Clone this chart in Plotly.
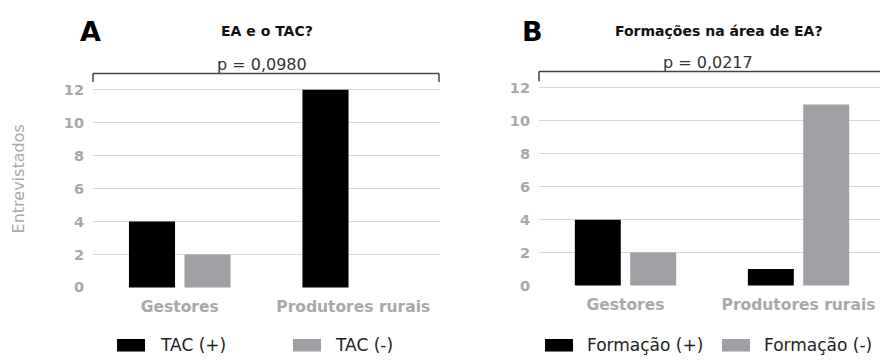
import plotly.graph_objects as go

# ---- data ----
categories = ["Gestores", "Produtores rurais"]
tac_names = ["TAC (+)", "TAC (-)"]
tac_pos = [4, 12]
tac_neg = [2, 0]
form_names = ["Formação (+)", "Formação (-)"]
form_pos = [4, 1]
form_neg = [2, 11]
y_ticks = [0, 2, 4, 6, 8, 10, 12]
panel_titles = ["EA e o TAC?", "Formações na área de EA?"]
panel_letters = ["A", "B"]
p_values = ["p = 0,0980", "p = 0,0217"]
y_title = "Entrevistados"

# ---- style ----
W, H = 880, 360
BLACK = "#000000"
GRAY = "#a0a0a4"
GRID = "#d9d9d9"
TICK = "#a8a8a8"
FONT = "DejaVu Sans"


def px(x):
    return x / W


def py(y):
    return 1 - y / H


fig = go.Figure()

fig.add_trace(go.Bar(x=categories, y=tac_pos, name=tac_names[0], marker_color=BLACK,
                     marker_line_width=0, xaxis="x", yaxis="y", showlegend=False))
fig.add_trace(go.Bar(x=categories, y=tac_neg, name=tac_names[1], marker_color=GRAY,
                     marker_line_width=0, xaxis="x", yaxis="y", showlegend=False))
fig.add_trace(go.Bar(x=categories, y=form_pos, name=form_names[0], marker_color=BLACK,
                     marker_line_width=0, xaxis="x2", yaxis="y2", showlegend=False))
fig.add_trace(go.Bar(x=categories, y=form_neg, name=form_names[1], marker_color=GRAY,
                     marker_line_width=0, xaxis="x2", yaxis="y2", showlegend=False))

xax = dict(showgrid=False, zeroline=False, showline=False, ticks="",
           tickfont=dict(family=FONT, size=15.5, color=TICK, weight="bold"),
           ticklabelstandoff=8, fixedrange=True)
yax = dict(showgrid=True, gridcolor=GRID, gridwidth=1, zeroline=True,
           zerolinecolor="white", showline=False, ticks="",
           tickvals=y_ticks, range=[-0.03, 12.2],
           tickfont=dict(family=FONT, size=14.5, color=TICK, weight="bold"),
           ticklabelstandoff=8, fixedrange=True)

fig.update_layout(
    width=W, height=H, margin=dict(l=0, r=0, t=0, b=0),
    paper_bgcolor="white", plot_bgcolor="white",
    barmode="group", bargap=0.36, bargroupgap=0.17,
    xaxis=dict(xax, domain=[px(93), px(440)], anchor="y", range=[-0.5, 1.5]),
    yaxis=dict(yax, domain=[py(293.5), py(84.6)], anchor="x"),
    xaxis2=dict(xax, domain=[px(539), 1.0], anchor="y2", range=[-0.5, 1.471]),
    yaxis2=dict(yax, domain=[py(291.5), py(82.6)], anchor="x2"),
    font=dict(family=FONT),
)

shapes = []
annotations = []

# significance brackets
for (xl, xr, yb, yt) in [(93, 439, 71, 80), (539, 880, 69, 79)]:
    shapes.append(dict(type="line", xref="paper", yref="paper", x0=px(xl), x1=px(xr),
                       y0=py(yb), y1=py(yb), line=dict(color="#444444", width=1.5)))
    shapes.append(dict(type="line", xref="paper", yref="paper", x0=px(xl), x1=px(xl),
                       y0=py(yb), y1=py(yt), line=dict(color="#444444", width=1.5)))
    if xr < 870:
        shapes.append(dict(type="line", xref="paper", yref="paper", x0=px(xr), x1=px(xr),
                           y0=py(yb), y1=py(yt), line=dict(color="#444444", width=1.5)))

for txt, x, y in zip(p_values, [262, 708], [62, 60]):
    annotations.append(dict(text=txt, x=px(x), y=py(y), xref="paper", yref="paper",
                            showarrow=False, xanchor="center", yanchor="middle",
                            font=dict(family=FONT, size=16, color="#333333")))

for txt, x, y in zip(panel_titles, [267, 719], [27, 27]):
    annotations.append(dict(text=txt, x=px(x), y=py(y), xref="paper", yref="paper",
                            showarrow=False, xanchor="center", yanchor="middle",
                            font=dict(family=FONT, size=14, color="#111111", weight="bold")))

for txt, x, y in zip(panel_letters, [90, 532], [28, 28]):
    annotations.append(dict(text=txt, x=px(x), y=py(y), xref="paper", yref="paper",
                            showarrow=False, xanchor="center", yanchor="middle",
                            font=dict(family=FONT, size=27, color="#000000", weight="bold")))

annotations.append(dict(text=y_title, x=px(18), y=py(181), xref="paper", yref="paper",
                        showarrow=False, textangle=-90, xanchor="center", yanchor="middle",
                        font=dict(family=FONT, size=16, color="#aaaaaa")))

# legends (swatches + series names)
legend_items = [
    (tac_names[0], BLACK, 117, 158),
    (tac_names[1], GRAY, 293, 333),
    (form_names[0], BLACK, 545, 585),
    (form_names[1], GRAY, 722, 762),
]
for name, color, sx, tx in legend_items:
    shapes.append(dict(type="rect", xref="paper", yref="paper", x0=px(sx), x1=px(sx + 28),
                       y0=py(359.5), y1=py(346.5), fillcolor=color, line=dict(width=0)))
    annotations.append(dict(text=name, x=px(tx), y=py(353), xref="paper", yref="paper",
                            showarrow=False, xanchor="left", yanchor="middle",
                            font=dict(family=FONT, size=17, color="#222222")))

fig.update_layout(shapes=shapes, annotations=annotations)

fig.write_html("out.html", config={"displayModeBar": False},
               post_script="document.body.style.margin='0';document.body.style.overflow='hidden';")
